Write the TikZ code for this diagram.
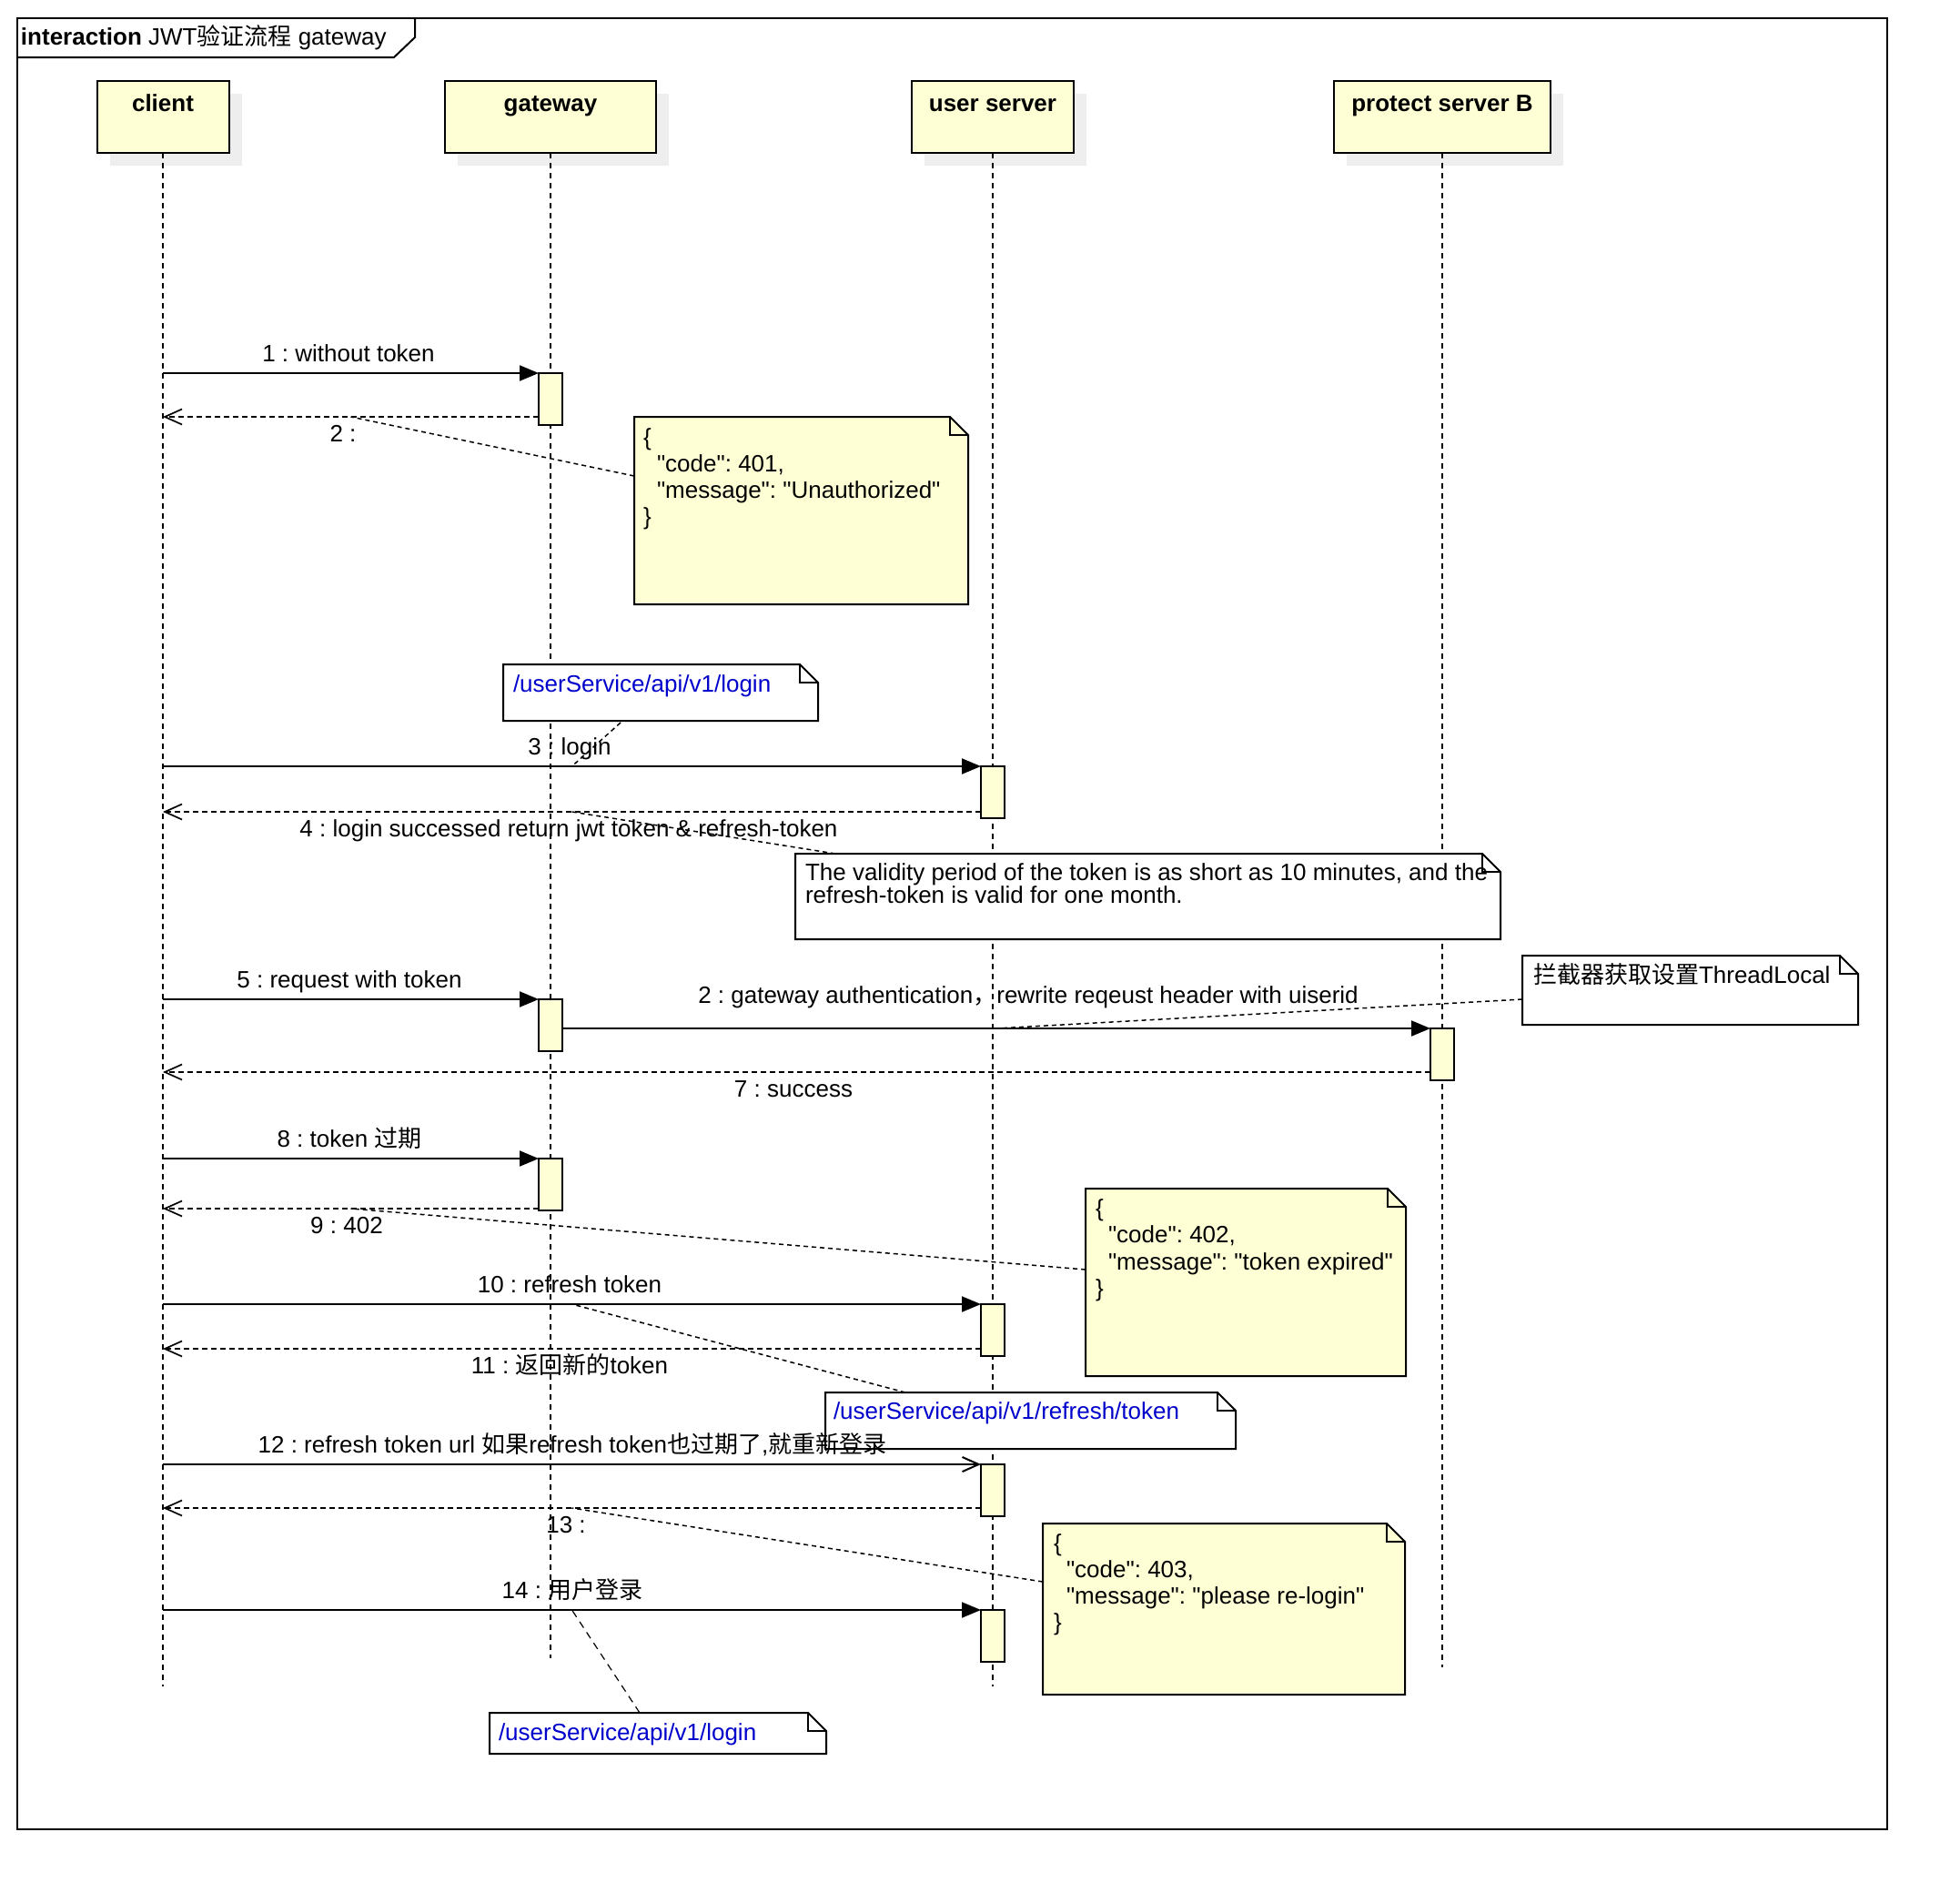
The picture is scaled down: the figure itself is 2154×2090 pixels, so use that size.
\documentclass[tikz,border=0pt]{standalone}
\usepackage{fontspec}
\setmainfont{Liberation Sans}
\newfontfamily\plainfnt{Liberation Sans}
\newfontfamily\cjk{Noto Sans CJK SC}
\usetikzlibrary{arrows.meta,calc,fit,shadows}
\definecolor{partfill}{HTML}{FFFFD5}
\definecolor{shadowgray}{HTML}{EEEEEE}
\definecolor{urlblue}{RGB}{0,0,204}
\newcommand{\fs}{\plainfnt\frenchspacing\fontsize{13}{15}\selectfont}
\newcommand{\zh}[1]{{\cjk #1}}
\newcommand{\notedraw}[2]{%
  \draw[line width=1pt, fill=#2] (#1.north west) -- ($(#1.north east)+(-20,0)$) -- ($(#1.north east)+(0,20)$) -- (#1.south east) -- (#1.south west) -- cycle;
  \draw[line width=1pt] ($(#1.north east)+(-20,0)$) -- ($(#1.north east)+(-20,20)$) -- ($(#1.north east)+(0,20)$);}
\begin{document}
\begin{tikzpicture}[x=0.5pt,y=-0.5pt,
  every node/.style={inner sep=0pt,outer sep=0pt,font=\fs},
  part/.style={draw, line width=1pt, fill=partfill, minimum height=39.5pt,
    drop shadow={shadow xshift=7pt, shadow yshift=-7pt, fill=shadowgray, opacity=1, draw=none}},
  pname/.style={font=\fs\bfseries, anchor=base},
  lifeline/.style={line width=0.85pt, dash pattern=on 3pt off 2.5pt},
  act/.style={draw, line width=1pt, fill=partfill, minimum width=13pt, minimum height=28.5pt, anchor=north},
  msg/.style={line width=1pt, -{Triangle[length=10.5pt,width=8.5pt]}},
  openmsg/.style={line width=1pt, -{Straight Barb[length=9pt,width=8pt]}},
  ret/.style={line width=0.85pt, dash pattern=on 3pt off 2pt, -{Straight Barb[length=9.5pt,width=8.5pt]}},
  noteconn/.style={line width=0.75pt, dash pattern=on 2.5pt off 2pt},
  lbl/.style={anchor=base},
  ntext/.style={anchor=base west},
  url/.style={anchor=base west, text=urlblue}
]
\useasboundingbox (0,0) rectangle (2154,2090);

% frame
\draw[line width=1pt] (19,20) rectangle (2074,2010);
\coordinate (t1) at (19,63);
\coordinate (t2) at (433,63);
\coordinate (t3) at (456,41);
\coordinate (t4) at (456,20);
\draw[line width=1pt] (t1) -- (t2) -- (t3) -- (t4);
\node[anchor=base west] (title) at (23,49) {\textbf{interaction} JWT\zh{验证流程} gateway};

% participants
\node[part, minimum width=72.5pt] (client) at (179,128.5) {};
\node[pname] (clientname) at (179,122) {client};
\node[part, minimum width=116pt] (gateway) at (605,128.5) {};
\node[pname] (gatewayname) at (605,122) {gateway};
\node[part, minimum width=89pt] (user) at (1091,128.5) {};
\node[pname] (username) at (1091,122) {user server};
\node[part, minimum width=119pt] (prot) at (1585,128.5) {};
\node[pname] (protname) at (1585,122) {protect server B};

% lifelines
\coordinate (clientEnd) at (179,1853);
\coordinate (gatewayEnd) at (605,1822);
\coordinate (userEnd) at (1091,1853);
\coordinate (protEnd) at (1585,1832);
\draw[lifeline] (client.south) -- (clientEnd);
\draw[lifeline] (gateway.south) -- (gatewayEnd);
\draw[lifeline] (user.south) -- (userEnd);
\draw[lifeline] (prot.south) -- (protEnd);

% notes
\node[fit={(697,458) (1064,664)}] (n1) {};
\notedraw{n1}{partfill}
\node[fit={(553,730) (899,792)}] (n2) {};
\notedraw{n2}{white}
\node[fit={(874,938) (1649,1032)}] (n3) {};
\notedraw{n3}{white}
\node[fit={(1673,1050) (2042,1126)}] (n4) {};
\notedraw{n4}{white}
\node[fit={(1193,1306) (1545,1512)}] (n5) {};
\notedraw{n5}{partfill}
\node[fit={(907,1530) (1358,1592)}] (n6) {};
\notedraw{n6}{white}
\node[fit={(1146,1674) (1544,1862)}] (n7) {};
\notedraw{n7}{partfill}
\node[fit={(538,1882) (908,1927)}] (n8) {};
\notedraw{n8}{white}

% note texts
\node[ntext] (n1a) at (707,489) {\{};
\node[ntext] (n1b) at (722,518) {"code": 401,};
\node[ntext] (n1c) at (722,547) {"message": "Unauthorized"};
\node[ntext] (n1d) at (707,576) {\}};
\node[url] (n2a) at (564,760) {/userService/api/v1/login};
\node[ntext] (n3a) at (885,967) {The validity period of the token is as short as 10 minutes, and the};
\node[ntext] (n3b) at (885,992) {refresh-token is valid for one month.};
\node[ntext] (n4a) at (1685,1080) {\zh{拦截器获取设置}ThreadLocal};
\node[ntext] (n5a) at (1204,1336) {\{};
\node[ntext] (n5b) at (1218,1365) {"code": 402,};
\node[ntext] (n5c) at (1218,1395) {"message": "token expired"};
\node[ntext] (n5d) at (1204,1424) {\}};
\node[url] (n6a) at (916,1559) {/userService/api/v1/refresh/token};
\node[ntext] (n7a) at (1158,1704) {\{};
\node[ntext] (n7b) at (1172,1733) {"code": 403,};
\node[ntext] (n7c) at (1172,1762) {"message": "please re-login"};
\node[ntext] (n7d) at (1158,1791) {\}};
\node[url] (n8a) at (548,1912) {/userService/api/v1/login};

% activations
\node[act] (a1) at (605,410) {};
\node[act] (a3) at (1091,842) {};
\node[act] (a5) at (605,1098) {};
\node[act] (a6) at (1585,1130) {};
\node[act] (a8) at (605,1273) {};
\node[act] (a10) at (1091,1433) {};
\node[act] (a12) at (1091,1609) {};
\node[act] (a14) at (1091,1769) {};

% messages
\coordinate (m1s) at (179,410);
\draw[msg] (m1s) -- (a1.north west);
\coordinate (r2s) at (592,458); \coordinate (r2e) at (179,458);
\draw[ret] (r2s) -- (r2e);
\coordinate (m3s) at (179,842);
\draw[msg] (m3s) -- (a3.north west);
\coordinate (r4s) at (1078,892); \coordinate (r4e) at (179,892);
\draw[ret] (r4s) -- (r4e);
\coordinate (m5s) at (179,1098);
\draw[msg] (m5s) -- (a5.north west);
\coordinate (m6s) at (618,1130);
\draw[msg] (m6s) -- (a6.north west);
\coordinate (r7s) at (1572,1178); \coordinate (r7e) at (179,1178);
\draw[ret] (r7s) -- (r7e);
\coordinate (m8s) at (179,1273);
\draw[msg] (m8s) -- (a8.north west);
\coordinate (r9s) at (592,1328); \coordinate (r9e) at (179,1328);
\draw[ret] (r9s) -- (r9e);
\coordinate (m10s) at (179,1433);
\draw[msg] (m10s) -- (a10.north west);
\coordinate (r11s) at (1078,1482); \coordinate (r11e) at (179,1482);
\draw[ret] (r11s) -- (r11e);
\coordinate (m12s) at (179,1609);
\draw[openmsg] (m12s) -- (a12.north west);
\coordinate (r13s) at (1078,1657); \coordinate (r13e) at (179,1657);
\draw[ret] (r13s) -- (r13e);
\coordinate (m14s) at (179,1769);
\draw[msg] (m14s) -- (a14.north west);

% labels
\node[lbl] (l1) at (383,397) {1 : without token};
\node[lbl] (l2) at (377,485) {2 :};
\node[lbl] (l3) at (626,829) {3 : login};
\node[lbl] (l4) at (625,919) {4 : login successed return jwt token \& refresh-token};
\node[lbl] (l5) at (384,1085) {5 : request with token};
\node[lbl] (l6) at (1130,1102) {2 : gateway authentication\zh{，}rewrite reqeust header with uiserid};
\node[lbl] (l7) at (872,1205) {7 : success};
\node[lbl] (l8) at (384,1260) {8 : token \zh{过期}};
\node[lbl] (l9) at (381,1355) {9 : 402};
\node[lbl] (l10) at (626,1420) {10 : refresh token};
\node[lbl] (l11) at (626,1509) {11 : \zh{返回新的}token};
\node[lbl] (l12) at (629,1596) {12 : refresh token url \zh{如果}refresh token\zh{也过期了},\zh{就重新登录}};
\node[lbl] (l13) at (622,1684) {13 :};
\node[lbl] (l14) at (629,1756) {14 : \zh{用户登录}};

% note connectors
\coordinate (c1) at (697,523);
\draw[noteconn] (c1) -- ($(r2s)!0.5!(r2e)$);
\coordinate (c2) at (682,794);
\draw[noteconn] (c2) -- ($(m3s)!0.5!(a3.north west)$);
\coordinate (c3) at (918,938);
\draw[noteconn] (c3) -- ($(r4s)!0.5!(r4e)$);
\coordinate (c4) at (1673,1098);
\draw[noteconn] (c4) -- ($(m6s)!0.5!(a6.north west)$);
\coordinate (c5) at (1193,1395);
\draw[noteconn] (c5) -- ($(r9s)!0.5!(r9e)$);
\coordinate (c6) at (995,1530);
\draw[noteconn] (c6) -- ($(m10s)!0.5!(a10.north west)$);
\coordinate (c7) at (1146,1738);
\draw[noteconn] (c7) -- ($(r13s)!0.5!(r13e)$);
\coordinate (c8) at (703,1882);
\draw[line width=0.6pt, dash pattern=on 4pt off 3pt] (c8) -- ($(m14s)!0.5!(a14.north west)$);
\end{tikzpicture}
\end{document}
